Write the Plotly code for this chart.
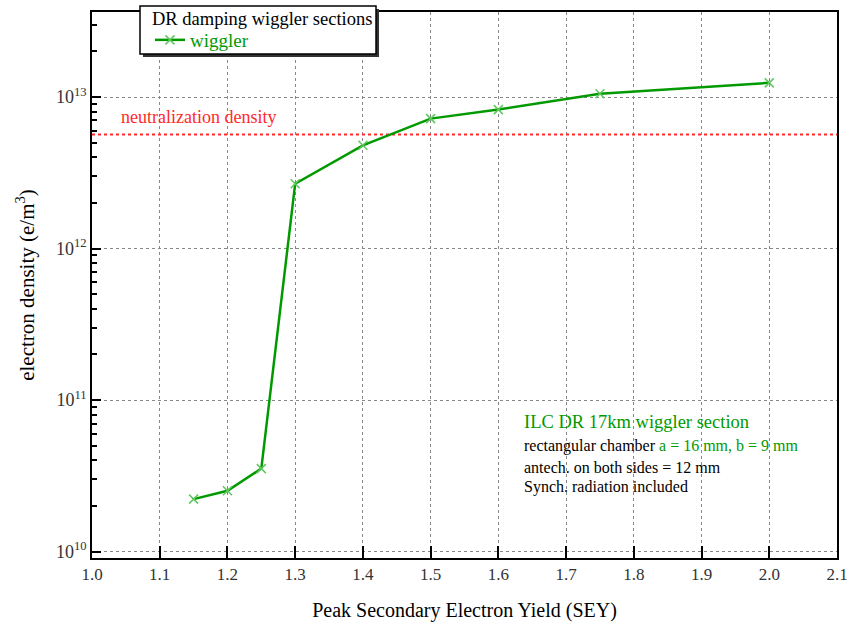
import plotly.graph_objects as go

# Peak SEY vs electron density in the ILC DR wiggler section
sey = [1.15, 1.2, 1.25, 1.3, 1.4, 1.5, 1.6, 1.75, 2.0]
density = [2.22e10, 2.52e10, 3.53e10, 2.68e12, 4.8e12, 7.2e12, 8.26e12, 1.05e13, 1.24e13]

neutral_x = [1.0, 2.1]
neutral_y = [5.65e12, 5.65e12]

ytick_vals = [1e10, 1e11, 1e12, 1e13]
ytick_text = ["10<sup>10</sup>", "10<sup>11</sup>", "10<sup>12</sup>", "10<sup>13</sup>"]
xtick_vals = [1.0, 1.1, 1.2, 1.3, 1.4, 1.5, 1.6, 1.7, 1.8, 1.9, 2.0, 2.1]

SERIF = "Liberation Serif"
GREEN = "#009a00"
LIGHT_GREEN = "#5fc85f"

# plot area in pixels (left, right, top, bottom)
PL, PR, PT, PB = 92, 837, 12, 558
PW, PH = PR - PL, PB - PT


def px_x(x):
    return (x - PL) / PW


def px_y(y):
    return 1 - (y - PT) / PH


fig = go.Figure()

fig.add_trace(go.Scatter(
    x=neutral_x, y=neutral_y, mode="lines",
    line=dict(color="#ff2a2a", width=2, dash="dot"),
    showlegend=False, hoverinfo="skip",
))

fig.add_trace(go.Scatter(
    x=sey, y=density, mode="lines+markers", name="wiggler",
    line=dict(color=GREEN, width=2.5),
    marker=dict(symbol="x-thin-open", size=9, color=LIGHT_GREEN,
                line=dict(color=LIGHT_GREEN, width=1.5)),
))

fig.update_xaxes(
    range=[1.0, 2.1], tickvals=xtick_vals, ticktext=[f"{v:.1f}" for v in xtick_vals],
    ticks="inside", ticklen=12, tickcolor="black", tickwidth=1.5,
    showline=True, linecolor="black", linewidth=1.5, mirror=True,
    showgrid=True, gridcolor="#888888", griddash="dot", gridwidth=1,
    zeroline=False, automargin=False,
    tickfont=dict(family=SERIF, size=17, color="#333333"),
    title=dict(text="Peak Secondary Electron Yield (SEY)",
               font=dict(family=SERIF, size=20, color="black"), standoff=20),
)

fig.update_yaxes(
    type="log", range=[9.958, 13.561],
    tickvals=ytick_vals, ticktext=ytick_text,
    ticks="inside", ticklen=9, tickcolor="black", tickwidth=1.5,
    minor=dict(ticks="inside", ticklen=5, tickcolor="black", dtick="D1", showgrid=False),
    showline=True, linecolor="black", linewidth=1.5, mirror=True,
    showgrid=True, gridcolor="#888888", griddash="dot", gridwidth=1,
    zeroline=False, automargin=False,
    tickfont=dict(family=SERIF, size=18, color="#333333"),
    title=dict(text="electron density (e/m<sup>3</sup>)",
               font=dict(family=SERIF, size=21, color="black"), standoff=16),
)

fig.add_annotation(
    x=px_x(119), y=px_y(117), xref="paper", yref="paper", text="neutralization density",
    showarrow=False, xanchor="left", yanchor="middle",
    font=dict(family=SERIF, size=18, color="#ff2a2a"),
)

info_lines = [
    ("<span style='color:%s'>ILC DR 17km wiggler section</span>" % GREEN, 18.5, 422),
    ("rectangular chamber <span style='color:%s'>a = 16 mm, b = 9 mm</span>" % GREEN, 16, 446),
    ("antech. on both sides = 12 mm", 16, 467),
    ("Synch. radiation included", 16, 487),
]
for text, size, ypx in info_lines:
    fig.add_annotation(
        x=px_x(522), y=px_y(ypx), xref="paper", yref="paper",
        text=text, showarrow=False, xanchor="left", yanchor="middle",
        font=dict(family=SERIF, size=size, color="black"),
    )

# legend frame: drop shadow, then white box, then title
fig.add_shape(
    type="rect", xref="paper", yref="paper",
    x0=px_x(143), x1=px_x(379), y0=px_y(57), y1=px_y(9),
    fillcolor="#333333", line=dict(width=0), layer="above",
)
fig.add_shape(
    type="rect", xref="paper", yref="paper",
    x0=px_x(140), x1=px_x(376), y0=px_y(54), y1=px_y(6),
    fillcolor="white", line=dict(color="black", width=1.5), layer="above",
)
fig.add_annotation(
    x=px_x(150), y=px_y(19), xref="paper", yref="paper",
    text="DR damping wiggler sections", showarrow=False,
    xanchor="left", yanchor="middle",
    font=dict(family=SERIF, size=18.5, color="black"),
)

fig.update_layout(
    width=848, height=628,
    margin=dict(l=PL, r=848 - PR, t=PT, b=628 - PB),
    paper_bgcolor="white", plot_bgcolor="white",
    font=dict(family=SERIF, color="black"),
    legend=dict(
        x=px_x(150), y=px_y(40), xanchor="left", yanchor="middle",
        bgcolor="rgba(0,0,0,0)", borderwidth=0,
        font=dict(family=SERIF, size=19, color=GREEN),
        itemwidth=30, tracegroupgap=0,
    ),
)

fig.write_html("out.html", config={"displayModeBar": False},
               post_script="document.body.style.margin = '0';")
